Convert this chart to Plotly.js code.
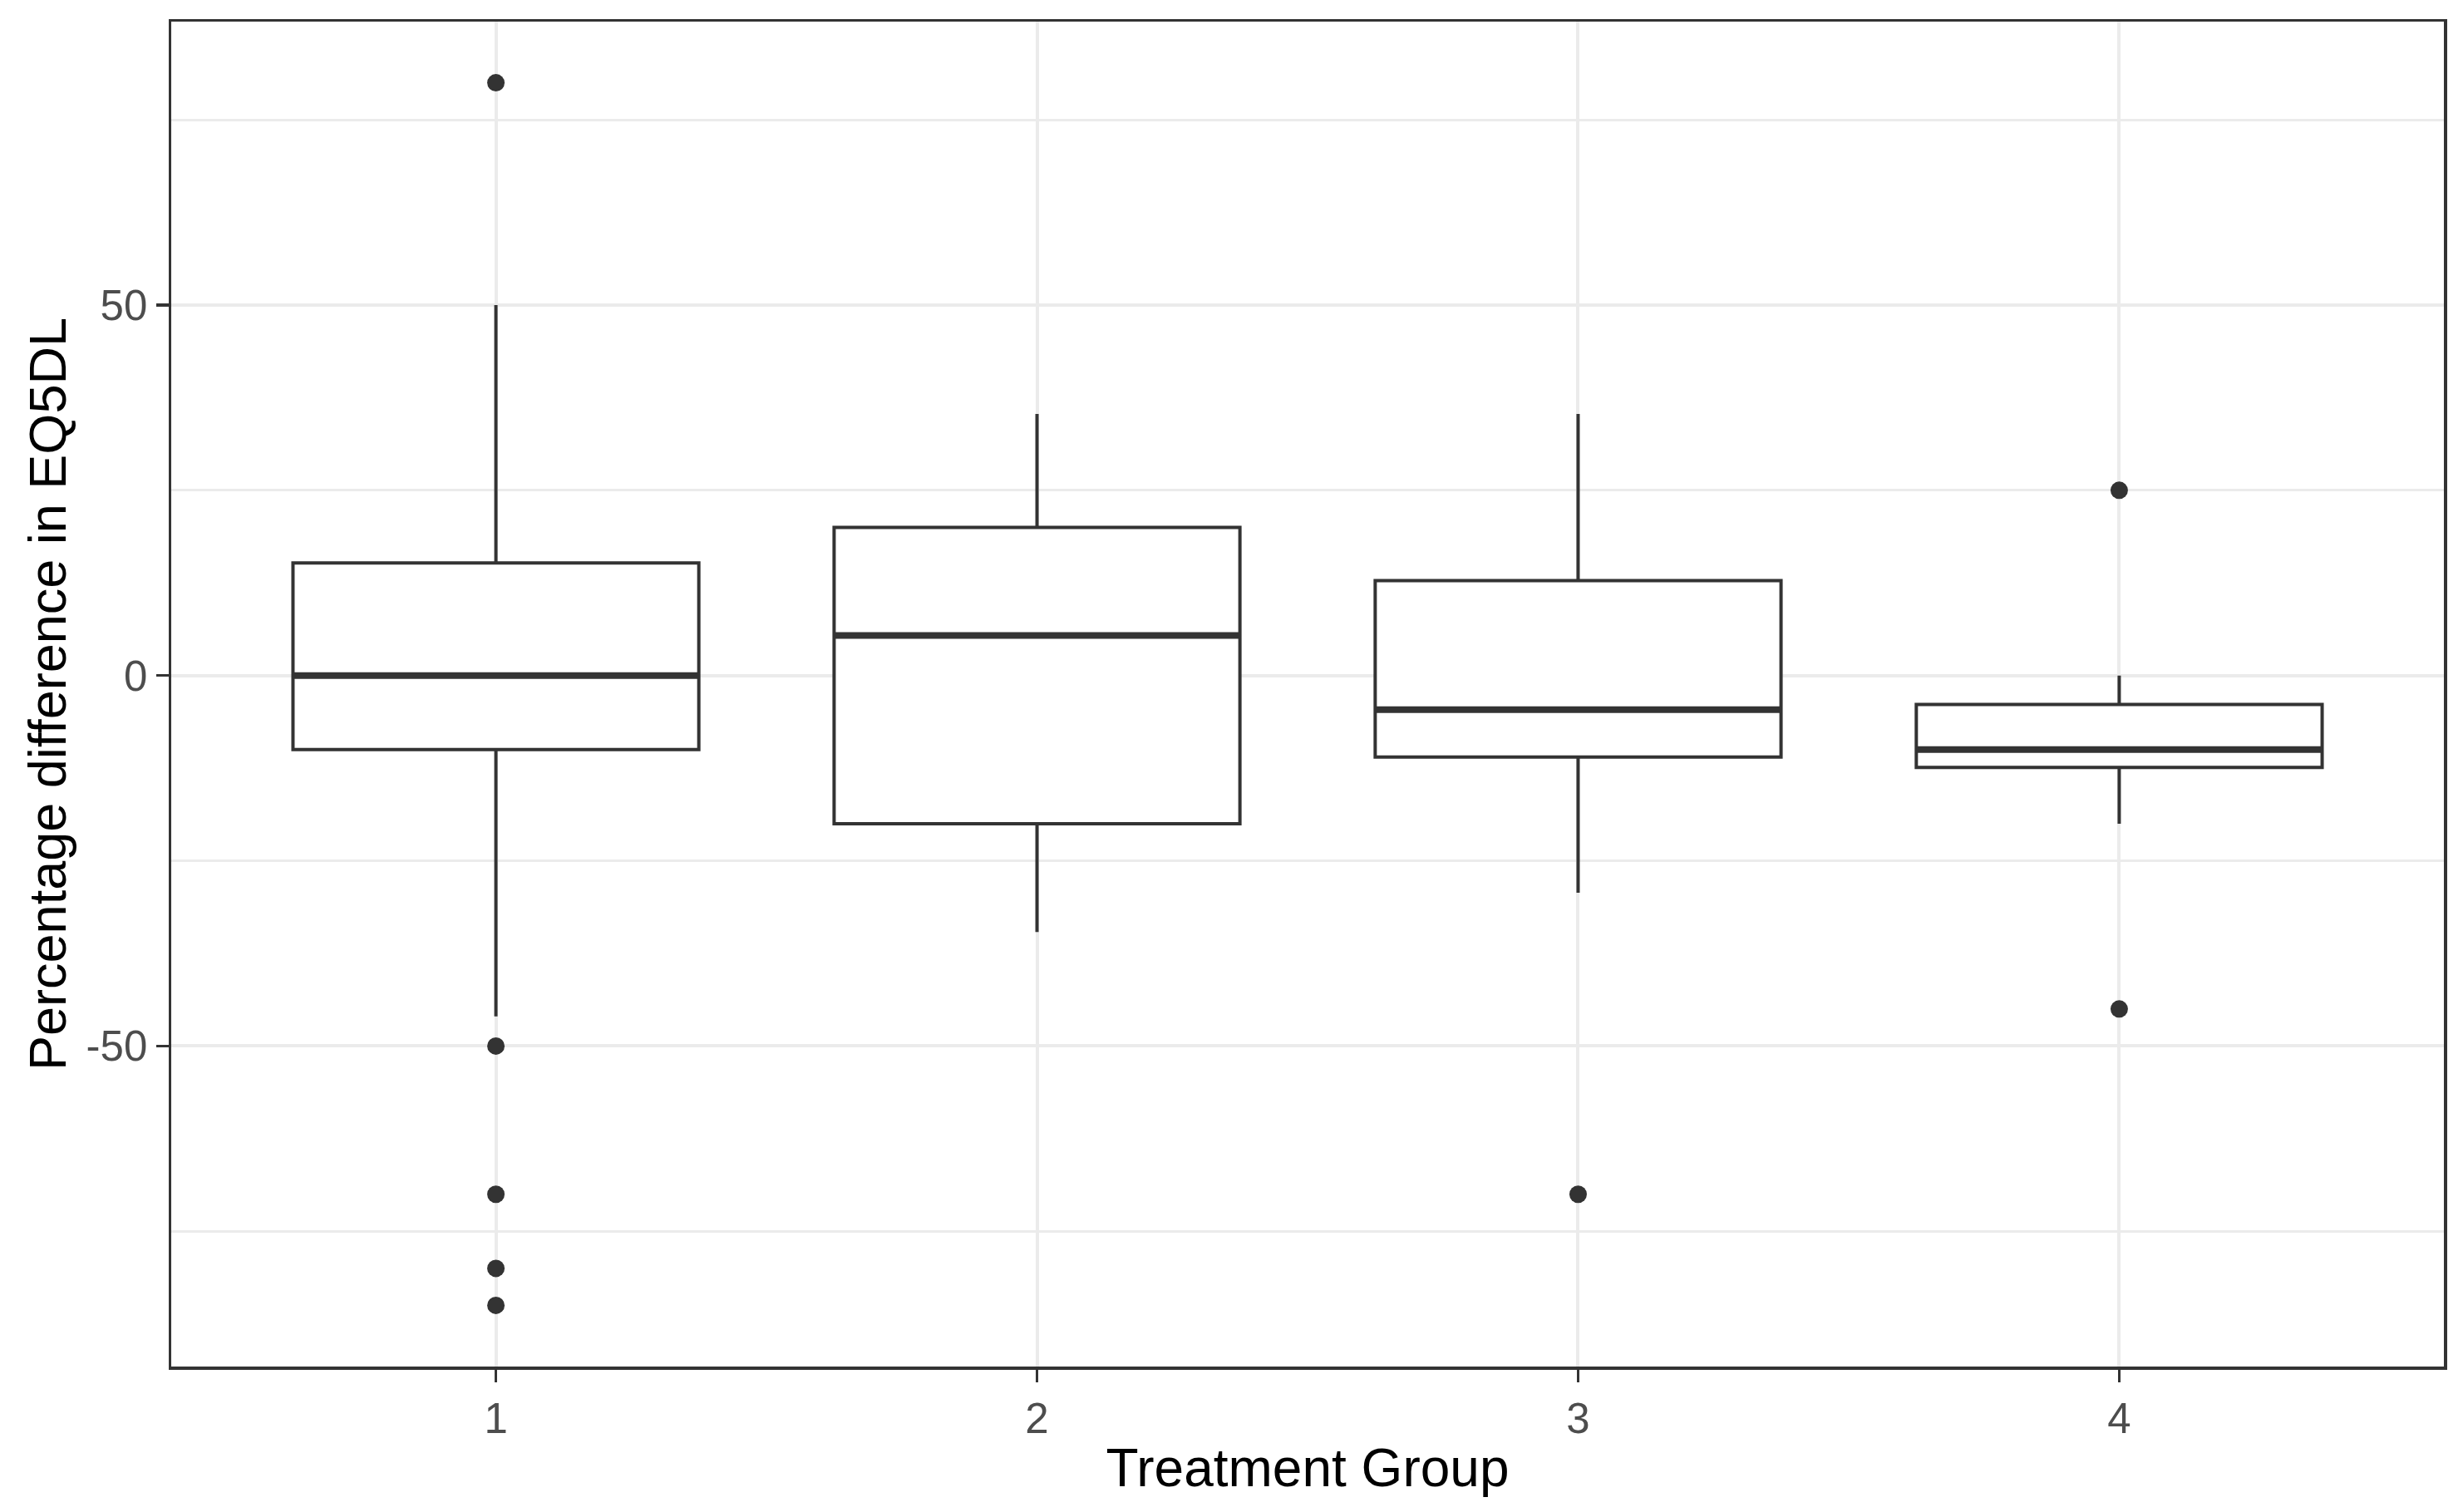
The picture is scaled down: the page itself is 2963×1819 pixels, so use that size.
<!DOCTYPE html>
<html>
<head>
<meta charset="utf-8">
<script src="https://cdn.plot.ly/plotly-3.0.1.min.js"></script>
<style>html,body{margin:0;padding:0;background:#fff;}#chart{width:2963px;height:1819px;}</style>
</head>
<body>
<div id="chart"></div>
<script>
// Data
const groups = [1, 2, 3, 4];
const tickLabels = ["1", "2", "3", "4"];
const yTickVals = [-50, 0, 50];
const yTickLabels = ["-50", "0", "50"];
const lowerWhisker = [-46, -34.6, -29.3, -20];
const q1 = [-10, -20, -11, -12.4];
const median = [0, 5.4, -4.6, -10];
const q3 = [15.2, 20, 12.8, -3.9];
const upperWhisker = [50, 35.3, 35.3, 0];
const outlierGroup = [1, 1, 1, 1, 1, 3, 4, 4];
const outlierValue = [80, -50, -70, -80, -85, -70, 25, -45];

const dark = '#333333';
const boxWidth = 0.75;

const boxTrace = {
  type: 'box',
  x: groups,
  q1: q1,
  median: median,
  q3: q3,
  lowerfence: lowerWhisker,
  upperfence: upperWhisker,
  width: boxWidth,
  whiskerwidth: 0,
  boxpoints: false,
  fillcolor: 'white',
  line: {color: dark, width: 4},
  hoverinfo: 'skip',
  showlegend: false
};

// thicker median lines (ggplot fatten)
const mx = [], my = [];
groups.forEach((g, i) => {
  mx.push(g - boxWidth / 2, g + boxWidth / 2, null);
  my.push(median[i], median[i], null);
});
const medianTrace = {
  type: 'scatter', mode: 'lines', x: mx, y: my,
  line: {color: dark, width: 8}, hoverinfo: 'skip', showlegend: false
};

const outTrace = {
  type: 'scatter', mode: 'markers', x: outlierGroup, y: outlierValue,
  marker: {color: dark, size: 21}, hoverinfo: 'skip', showlegend: false
};

const layout = {
  width: 2963, height: 1819,
  paper_bgcolor: 'white', plot_bgcolor: 'white',
  margin: {l: 206, r: 23, t: 26, b: 175},
  font: {family: 'Liberation Sans, Arial, sans-serif'},
  showlegend: false,
  xaxis: {
    range: [0.4, 4.6], tickvals: groups, ticktext: tickLabels,
    showgrid: true, gridcolor: '#EBEBEB', gridwidth: 4,
    zeroline: false, showline: true, mirror: true, linecolor: dark, linewidth: 3.5,
    ticks: 'outside', ticklen: 15, tickwidth: 3.5, tickcolor: dark,
    tickfont: {size: 51, color: '#4D4D4D'},
    title: {text: 'Treatment Group', font: {size: 64, color: '#000000'}, standoff: 10}
  },
  yaxis: {
    range: [-93.25, 88.25], tickvals: yTickVals, ticktext: yTickLabels,
    showgrid: true, gridcolor: '#EBEBEB', gridwidth: 4,
    minor: {dtick: 25, tick0: 0, showgrid: true, gridcolor: '#EBEBEB', gridwidth: 3, ticks: ''},
    zeroline: false, showline: true, mirror: true, linecolor: dark, linewidth: 3.5,
    ticks: 'outside', ticklen: 15, tickwidth: 3.5, tickcolor: dark,
    tickfont: {size: 51, color: '#4D4D4D'},
    automargin: true,
    title: {text: 'Percentage difference in EQ5DL', font: {size: 63, color: '#000000'}, standoff: 4}
  }
};

Plotly.newPlot('chart', [boxTrace, medianTrace, outTrace], layout, {displayModeBar: false, staticPlot: true});
</script>
</body>
</html>
